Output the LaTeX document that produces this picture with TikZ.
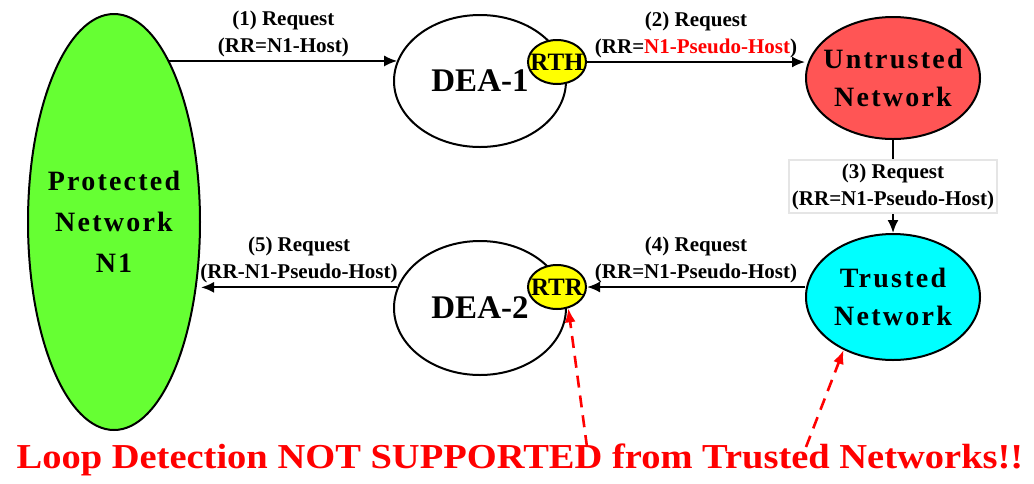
\documentclass[tikz,border=0pt]{standalone}
\usepackage{fontspec}
\setmainfont{Liberation Serif}
\newfontfamily\netfont[LetterSpace=8]{Liberation Serif}
\newfontfamily\warnfont[FakeStretch=1.1]{Liberation Serif}
\usetikzlibrary{shapes.geometric,arrows.meta}

\definecolor{protgreen}{RGB}{102,255,51}
\definecolor{untrred}{RGB}{255,85,85}
\definecolor{trusblue}{RGB}{0,255,255}
\definecolor{rtyellow}{RGB}{255,255,0}

\begin{document}
\begin{tikzpicture}[
                x=0.5pt, y=-0.5pt,
                every node/.style={font=\bfseries},
                net/.style={ellipse, draw, line width=1pt, inner sep=0pt},
                nettext/.style={align=center, font=\netfont\bfseries\fontsize{14}{19}\selectfont},
                rt/.style={ellipse, draw, line width=1pt, fill=rtyellow, inner sep=0pt,
                    minimum width=29pt, minimum height=22pt},
                rttext/.style={font=\bfseries\fontsize{12.5}{14}\selectfont},
                req/.style={align=center, font=\bfseries\fontsize{10.5}{13.5}\selectfont, inner sep=1.5pt},
                flow/.style={line width=1pt, -{Latex[length=6.5pt,width=5.5pt]}},
                warn/.style={red, line width=1.3pt, dash pattern=on 6pt off 4pt,
                    -{Latex[length=7pt,width=5.5pt]}},
            ]
            \useasboundingbox (0,0) rectangle (1034,483);
            % networks
            \node[net, fill=protgreen, minimum width=86pt, minimum height=208pt,
                label={[nettext, font=\netfont\bfseries\fontsize{14}{20.5}\selectfont]center:Protected\\Network\\N1}] (prot) at (114,222) {};
            \node[net, fill=untrred, minimum width=87pt, minimum height=61pt,
                label={[nettext]center:Untrusted\\Network}] (untr) at (893,78) {};
            \node[net, fill=trusblue, minimum width=87pt, minimum height=63pt,
                label={[nettext]center:Trusted\\Network}] (trus) at (893,297) {};
            % edge agents
            \node[net, minimum width=86pt, minimum height=66pt, font=\bfseries\fontsize{16.5}{20}\selectfont] (dea1) at (480,81) {DEA-1};
            \node[net, minimum width=86pt, minimum height=67pt, font=\bfseries\fontsize{16.5}{20}\selectfont] (dea2) at (480,308) {DEA-2};
            \node[rt, label={[rttext]center:RTH}] (rth) at (557,62) {};
            \node[rt, label={[rttext]center:RTR}] (rtr) at (557,287) {};
            % requests
            \draw[flow] (prot.71) -- (prot.71 -| dea1.166) node[req, midway, above] {(1) Request\\(RR=N1-Host)};
            \draw[flow] (rth.east) -- (rth.east -| untr.west) node[req, midway, above] {(2) Request\\(RR=\textcolor{red}{N1-Pseudo-Host})};
            \draw[flow] (untr.south) -- (trus.north) node[req, midway, fill=white, draw=black!10] {(3) Request\\(RR=N1-Pseudo-Host)};
            \draw[flow] (rtr.east -| trus.west) -- (rtr.east) node[req, midway, above] {(4) Request\\(RR=N1-Pseudo-Host)};
            \draw[flow] (dea2.166) -- (dea2.166 -| prot.east) node[req, midway, above] {(5) Request\\(RR-N1-Pseudo-Host)};
            % note
            \node[anchor=base, text=red, font=\warnfont\bfseries\fontsize{17.5}{20}\selectfont] (note) at (520,468) {Loop Detection NOT SUPPORTED from Trusted Networks!!};
            \coordinate (w1) at (587,447);
            \coordinate (w2) at (806,447);
            \draw[warn] (w1) -- (rtr.-62);
            \draw[warn] (w2) -- (trus.-133);
            \end{tikzpicture}
\end{document}
